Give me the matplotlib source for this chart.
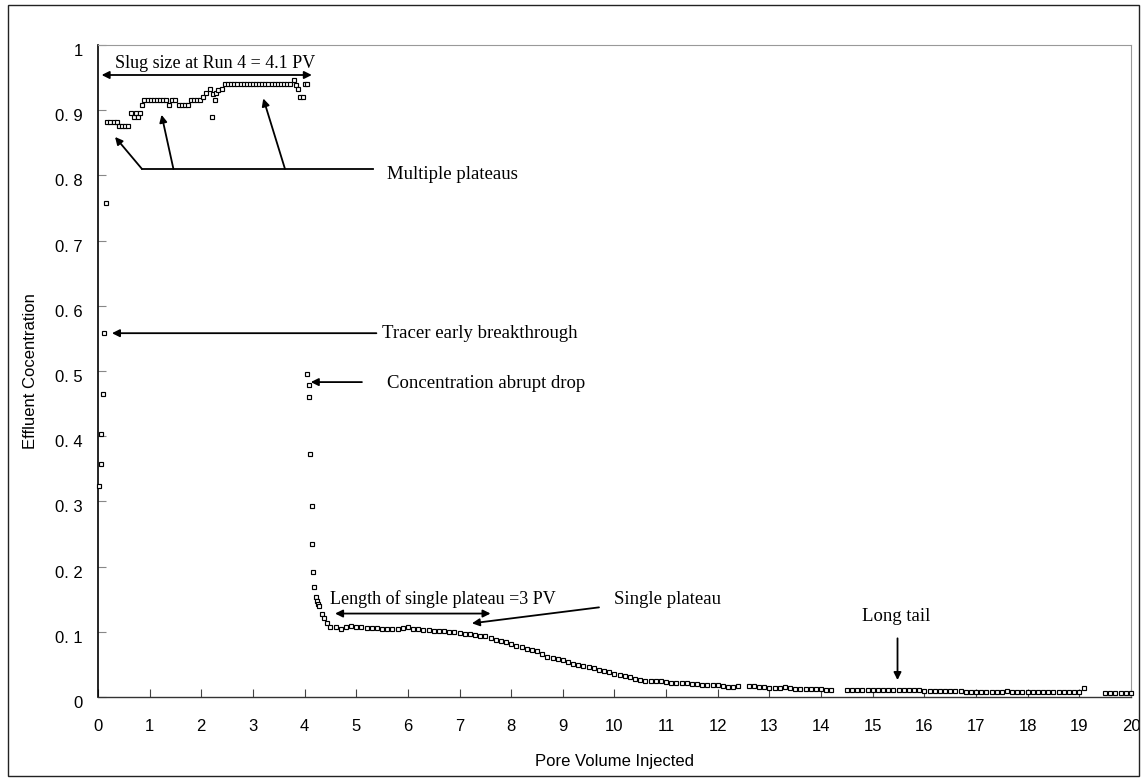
import matplotlib
matplotlib.use("Agg")
import matplotlib.pyplot as plt
import matplotlib.transforms as mtransforms
from matplotlib.patches import Rectangle

# tracer breakthrough: fast rise at the start of injection
pv_rise = [0.02, 0.05, 0.06, 0.09, 0.12, 0.16]
conc_rise = [0.323, 0.358, 0.404, 0.465, 0.558, 0.758]

# slug period with several plateaus
pv_slug = [0.18, 0.24, 0.30, 0.36, 0.40, 0.46, 0.52, 0.58,
           0.64, 0.70, 0.74, 0.78, 0.82, 0.86, 0.90, 0.96, 1.02, 1.08,
           1.14, 1.20, 1.26, 1.32, 1.38, 1.44, 1.50, 1.56, 1.62, 1.68,
           1.74, 1.80, 1.86, 1.92, 1.98, 2.04, 2.10, 2.16, 2.20, 2.22,
           2.26, 2.28, 2.33, 2.40, 2.46, 2.52, 2.58, 2.64, 2.70, 2.76,
           2.82, 2.88, 2.94, 3.00, 3.06, 3.12, 3.18, 3.24, 3.30, 3.36,
           3.42, 3.48, 3.54, 3.60, 3.66, 3.72, 3.79, 3.84, 3.88, 3.92,
           3.96, 4.00, 4.04]
conc_slug = [0.882, 0.882, 0.882, 0.882, 0.876, 0.876, 0.876, 0.876,
             0.895, 0.889, 0.895, 0.889, 0.895, 0.908, 0.915, 0.915, 0.915, 0.915,
             0.915, 0.915, 0.915, 0.915, 0.908, 0.915, 0.915, 0.908, 0.908, 0.908,
             0.908, 0.915, 0.915, 0.915, 0.915, 0.921, 0.927, 0.932, 0.890, 0.925,
             0.915, 0.927, 0.931, 0.933, 0.940, 0.940, 0.940, 0.940, 0.940, 0.940,
             0.940, 0.940, 0.940, 0.940, 0.940, 0.940, 0.940, 0.940, 0.940, 0.940,
             0.940, 0.940, 0.940, 0.940, 0.940, 0.940, 0.946, 0.939, 0.933, 0.921,
             0.921, 0.940, 0.940]

# abrupt drop after the slug ends
pv_drop = [4.04, 4.08, 4.08, 4.10, 4.14, 4.14, 4.17, 4.19, 4.22, 4.24,
           4.26, 4.28, 4.33, 4.37, 4.43]
conc_drop = [0.496, 0.479, 0.460, 0.373, 0.293, 0.234, 0.192, 0.169, 0.154, 0.147,
             0.143, 0.139, 0.128, 0.121, 0.113]

# single plateau and long tail
pv_tail = [4.5, 4.6, 4.7, 4.8, 4.9, 5.0, 5.1, 5.2, 5.3, 5.4, 5.5, 5.6, 5.7, 5.8, 5.9,
           6.0, 6.1, 6.2, 6.3, 6.4, 6.5, 6.6, 6.7, 6.8, 6.9, 7.0, 7.1, 7.2, 7.3, 7.4,
           7.5, 7.6, 7.7, 7.8, 7.9, 8.0, 8.1, 8.2, 8.3, 8.4, 8.5, 8.6, 8.7, 8.8, 8.9,
           9.0, 9.1, 9.2, 9.3, 9.4, 9.5, 9.6, 9.7, 9.8, 9.9, 10.0, 10.1, 10.2, 10.3,
           10.4, 10.5, 10.6, 10.7, 10.8, 10.9, 11.0, 11.1, 11.2, 11.3, 11.4, 11.5,
           11.6, 11.7, 11.8, 11.9, 12.0, 12.1, 12.2, 12.3, 12.4, 12.6, 12.7, 12.8,
           12.9, 13.0, 13.1, 13.2, 13.3, 13.4, 13.5, 13.6, 13.7, 13.8, 13.9, 14.0,
           14.1, 14.2, 14.5, 14.6, 14.7, 14.8, 14.9, 15.0, 15.1, 15.2, 15.3, 15.4,
           15.5, 15.6, 15.7, 15.8, 15.9, 16.0, 16.1, 16.2, 16.3, 16.4, 16.5, 16.6,
           16.7, 16.8, 16.9, 17.0, 17.1, 17.2, 17.3, 17.4, 17.5, 17.6, 17.7, 17.8,
           17.9, 18.0, 18.1, 18.2, 18.3, 18.4, 18.5, 18.6, 18.7, 18.8, 18.9, 19.0,
           19.1, 19.5, 19.6, 19.7, 19.8, 19.9, 20.0]
conc_tail = [0.108, 0.107, 0.105, 0.107, 0.109, 0.107, 0.107, 0.106, 0.106, 0.106,
             0.104, 0.104, 0.105, 0.105, 0.106, 0.107, 0.105, 0.104, 0.103, 0.103,
             0.102, 0.102, 0.101, 0.100, 0.099, 0.098, 0.097, 0.096, 0.095, 0.094,
             0.093, 0.091, 0.088, 0.086, 0.084, 0.082, 0.078, 0.076, 0.074, 0.072,
             0.070, 0.066, 0.061, 0.060, 0.058, 0.056, 0.053, 0.050, 0.049, 0.047,
             0.046, 0.044, 0.042, 0.040, 0.038, 0.036, 0.034, 0.032, 0.030, 0.028,
             0.026, 0.025, 0.025, 0.024, 0.024, 0.023, 0.022, 0.022, 0.021, 0.021,
             0.020, 0.020, 0.019, 0.019, 0.018, 0.018, 0.017, 0.016, 0.016, 0.017,
             0.017, 0.017, 0.016, 0.015, 0.014, 0.014, 0.014, 0.015, 0.014, 0.013,
             0.013, 0.013, 0.012, 0.012, 0.012, 0.011, 0.011, 0.011, 0.010, 0.010,
             0.010, 0.010, 0.010, 0.010, 0.010, 0.010, 0.010, 0.010, 0.010, 0.010,
             0.010, 0.010, 0.009, 0.009, 0.009, 0.009, 0.009, 0.009, 0.009, 0.009,
             0.008, 0.008, 0.008, 0.008, 0.008, 0.008, 0.008, 0.008, 0.009, 0.008,
             0.008, 0.008, 0.008, 0.008, 0.007, 0.007, 0.007, 0.007, 0.007, 0.007,
             0.007, 0.007, 0.007, 0.014, 0.006, 0.006, 0.006, 0.006, 0.006, 0.006]

x_ticks = list(range(0, 21))
y_ticks = [0, 0.1, 0.2, 0.3, 0.4, 0.5, 0.6, 0.7, 0.8, 0.9, 1.0]
y_tick_labels = ["0", "0. 1", "0. 2", "0. 3", "0. 4", "0. 5",
                 "0. 6", "0. 7", "0. 8", "0. 9", "1"]

pv = pv_rise + pv_slug + pv_drop + pv_tail
conc = conc_rise + conc_slug + conc_drop + conc_tail

sans = "Liberation Sans"
serif = "Liberation Serif"

fig = plt.figure(figsize=(11.41, 7.80), dpi=100)
ax = fig.add_axes([0.0859, 0.1064, 0.9053, 0.8359])

# outer frame around the whole chart
fig.patches.append(Rectangle((7.5 / 1141, 4.5 / 780), 1131.5 / 1141, 771 / 780,
                             transform=fig.transFigure, fill=False,
                             edgecolor="#222222", linewidth=1.0))

ax.plot(pv, conc, linestyle="none", marker="s", markersize=3.3,
        markerfacecolor="white", markeredgecolor="black", markeredgewidth=0.85,
        clip_on=False, zorder=3)

ax.set_xlim(0, 20)
ax.set_ylim(0, 1)
ax.set_xticks(x_ticks)
ax.set_xticklabels([str(t) for t in x_ticks], fontfamily=sans, fontsize=12)
ax.set_yticks(y_ticks)
ax.set_yticklabels(y_tick_labels, fontfamily=sans, fontsize=12)
ax.tick_params(axis="x", direction="in", length=6, width=0.8, color="#444444", pad=16)
ax.tick_params(axis="y", direction="in", length=6, width=0.8, color="#888888", pad=11)
# y labels sit a little below their ticks
offset = mtransforms.ScaledTranslation(0, -5 / 100, fig.dpi_scale_trans)
for lab in ax.get_yticklabels():
    lab.set_transform(lab.get_transform() + offset)

ax.spines["left"].set_color("black")
ax.spines["left"].set_linewidth(1.2)
ax.spines["bottom"].set_color("#333333")
ax.spines["bottom"].set_linewidth(1.0)
ax.spines["top"].set_color("#999999")
ax.spines["right"].set_color("#999999")

ax.set_xlabel("Pore Volume Injected", fontfamily=sans, fontsize=12, labelpad=14)
ax.set_ylabel("Effluent Cocentration", fontfamily=sans, fontsize=12, labelpad=12)

arrow = dict(arrowstyle="-|>", color="black", lw=1.3, mutation_scale=11,
             shrinkA=0, shrinkB=0)
both = dict(arrowstyle="<|-|>", color="black", lw=1.3, mutation_scale=11,
            shrinkA=0, shrinkB=0)
tsize = 13.5

# slug size
ax.annotate("", xy=(4.14, 0.954), xytext=(0.07, 0.954), arrowprops=both)
ax.text(2.27, 0.972, "Slug size at Run 4 = 4.1 PV", ha="center", va="center",
        fontfamily=serif, fontsize=13)

# multiple plateaus
ax.plot([0.85, 5.33], [0.81, 0.81], color="black", lw=1.3)
ax.annotate("", xy=(0.33, 0.859), xytext=(0.85, 0.81), arrowprops=arrow)
ax.annotate("", xy=(1.23, 0.893), xytext=(1.46, 0.81), arrowprops=arrow)
ax.annotate("", xy=(3.20, 0.918), xytext=(3.62, 0.81), arrowprops=arrow)
ax.text(5.6, 0.801, "Multiple plateaus", ha="left", va="center",
        fontfamily=serif, fontsize=tsize)

# early breakthrough
ax.annotate("", xy=(0.27, 0.558), xytext=(5.39, 0.558), arrowprops=arrow)
ax.text(5.5, 0.558, "Tracer early breakthrough", ha="left", va="center",
        fontfamily=serif, fontsize=tsize)

# abrupt drop
ax.annotate("", xy=(4.12, 0.483), xytext=(5.11, 0.483), arrowprops=arrow)
ax.text(5.59, 0.481, "Concentration abrupt drop", ha="left", va="center",
        fontfamily=serif, fontsize=tsize)

# single plateau length
ax.annotate("", xy=(7.6, 0.128), xytext=(4.59, 0.128), arrowprops=both)
ax.text(4.5, 0.150, "Length of single plateau =3 PV", ha="left", va="center",
        fontfamily=serif, fontsize=13)

ax.annotate("", xy=(7.24, 0.113), xytext=(9.7, 0.1375), arrowprops=arrow)
ax.text(9.99, 0.150, "Single plateau", ha="left", va="center",
        fontfamily=serif, fontsize=tsize)

# long tail
ax.annotate("", xy=(15.48, 0.026), xytext=(15.48, 0.09), arrowprops=arrow)
ax.text(15.46, 0.123, "Long tail", ha="center", va="center",
        fontfamily=serif, fontsize=tsize)

fig.savefig("out.png", dpi=100)
